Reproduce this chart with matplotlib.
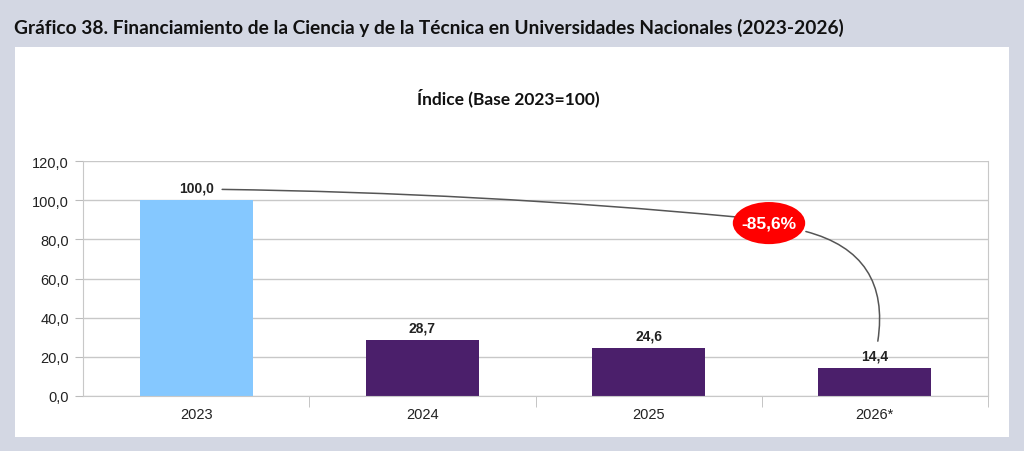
import matplotlib.pyplot as plt
from matplotlib.patches import Ellipse, Rectangle

# datos del gráfico
anios = ['2023', '2024', '2025', '2026*']
indice = [100.0, 28.7, 24.6, 14.4]
colores = ['#85C8FF', '#4B1F6B', '#4B1F6B', '#4B1F6B']
y_ticks = [0, 20, 40, 60, 80, 100, 120]
variacion = '-85,6%'

fondo = '#D3D7E3'

fig = plt.figure(figsize=(10.24, 4.52), dpi=100, facecolor=fondo)

# panel blanco
fig.patches.append(Rectangle((15 / 1024, 1 - 438 / 452), (1009 - 15) / 1024, (438 - 48) / 452,
                             transform=fig.transFigure, facecolor='white', edgecolor='none', zorder=-10))

fig.text(14 / 1024, 1 - 28 / 452, 'Gráfico 38. Financiamiento de la Ciencia y de la Técnica en Universidades Nacionales (2023-2026)',
         family='Lato', fontweight='bold', fontsize=13.8, va='center', ha='left', color='#111111')
fig.text(508 / 1024, 1 - 98 / 452, 'Índice (Base 2023=100)', family='Lato', fontweight='bold',
         fontsize=12.5, ha='center', va='center', color='#111111')

ax = fig.add_axes([83 / 1024, 1 - 397 / 452, (988 - 83) / 1024, (397 - 162) / 452])
ax.set_facecolor('none')

x = range(len(anios))
ax.bar(x, indice, width=0.5, color=colores, zorder=2)

ax.set_xlim(-0.5, 3.5)
ax.set_ylim(0, 120)
ax.set_yticks(y_ticks)
ax.set_yticklabels([f'{v:.1f}'.replace('.', ',') for v in y_ticks], family='Liberation Sans', fontsize=10.5, color='#222222')
ax.set_xticks(list(x))
ax.set_xticklabels(anios, family='Liberation Sans', fontsize=10.5, color='#222222')
ax.set_xticks([0.5, 1.5, 2.5, 3.5], minor=True)
ax.tick_params(axis='x', which='major', length=0, pad=8)
ax.tick_params(axis='x', which='minor', length=8, color='#BBBBBB')
ax.tick_params(axis='y', length=6, color='#BBBBBB', pad=4)
ax.grid(axis='y', color='#C8C8C8', linewidth=1, zorder=1)
for s in ['left', 'bottom', 'right']:
    ax.spines[s].set_color('#C8C8C8')
ax.spines['top'].set_visible(False)

# etiquetas de valores
for i, v in enumerate(indice):
    ax.annotate(f'{v:.1f}'.replace('.', ','), (i, v), xytext=(0, 4), textcoords='offset points',
                ha='center', va='bottom', family='Liberation Sans', fontweight='bold', fontsize=10, color='#222222')

# curva de variación
cx, cy = 2.532, 88.3
ax.annotate('', xy=(2.38, 91.5), xytext=(0.115, 105.5),
            arrowprops=dict(arrowstyle='-', color='#555555', lw=1.1, shrinkA=0, shrinkB=0,
                            connectionstyle='arc3,rad=-0.02'), zorder=3)
ax.annotate('', xy=(3.013, 28.0), xytext=(2.695, 84.0),
            arrowprops=dict(arrowstyle='-', color='#555555', lw=1.1, shrinkA=0, shrinkB=0,
                            connectionstyle='arc3,rad=-0.45'), zorder=3)
ax.add_patch(Ellipse((cx, cy), 0.32, 21.5, facecolor='#FF0000', edgecolor='none', zorder=4, clip_on=False))
ax.text(cx, cy, variacion, ha='center', va='center', color='white', fontweight='bold',
        family='Liberation Sans', fontsize=12.5, zorder=5)

fig.savefig('out.png', dpi=100, facecolor=fondo)
